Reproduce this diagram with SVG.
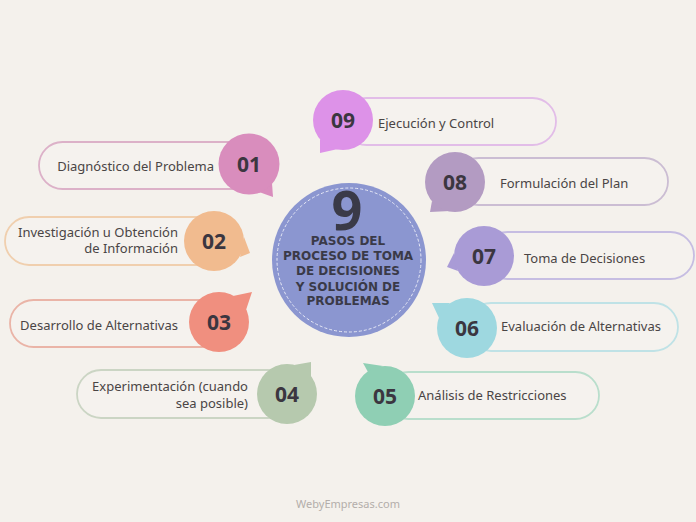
<svg xmlns="http://www.w3.org/2000/svg" width="696" height="522" viewBox="0 0 696 522">
<style>
.pill{fill:#f5f2ee;stroke-width:1.8}
.lbl{font-family:"Noto Sans","Open Sans",sans-serif;font-size:13px;fill:#4a4545}
.num{font-family:"Noto Sans","Open Sans",sans-serif;font-size:21px;font-weight:700;fill:#3b3640;text-anchor:middle}
.ctr{font-family:"DejaVu Sans","Noto Sans",sans-serif;font-weight:700;fill:#3a3a48;text-anchor:middle;font-size:12px}
</style>
<rect width="696" height="522" fill="#f4f1ec"/>
<g id="connectors"></g>
<g id="center">
<circle cx="349" cy="260" r="77" fill="#8b96d0"/>
<circle cx="349" cy="260" r="72" fill="none" stroke="#e6e8f6" stroke-width="1" stroke-dasharray="3 2"/>
<text x="347" y="230" text-anchor="middle" font-family="'Noto Sans','Open Sans',sans-serif" font-weight="700" font-size="54" fill="#3a3a48">9</text>
<text class="ctr" x="348" y="245">PASOS DEL</text>
<text class="ctr" x="348" y="260">PROCESO DE TOMA</text>
<text class="ctr" x="348" y="275">DE DECISIONES</text>
<text class="ctr" x="348" y="291">Y SOLUCIÓN DE</text>
<text class="ctr" x="348" y="305">PROBLEMAS</text>
</g>
<g id="n01">
<rect class="pill" x="39" y="142" width="220" height="47" rx="23.5" stroke="#dcb1c8"/>
<polygon points="272,183 259,192 273,197" fill="#d98dbd"/>
<circle cx="249" cy="164" r="30.5" fill="#d98dbd"/>
<text class="num" x="249" y="172">01</text>
<text class="lbl" x="214" y="171" text-anchor="end">Diagnóstico del Problema</text>
</g>
<g id="n02">
<rect class="pill" x="5" y="217" width="215" height="48" rx="24" stroke="#f0cfae"/>
<polygon points="244,237 240,257 250,253" fill="#f1bb8f"/>
<circle cx="214" cy="241" r="30" fill="#f1bb8f"/>
<text class="num" x="214" y="249">02</text>
<text class="lbl" x="178" y="237" text-anchor="end">Investigación u Obtención</text>
<text class="lbl" x="178" y="253" text-anchor="end">de Información</text>
</g>
<g id="n03">
<rect class="pill" x="10" y="300" width="215" height="47" rx="23.5" stroke="#eab4a7"/>
<polygon points="233,296 246,310 252,292" fill="#f08f7f"/>
<circle cx="219" cy="322" r="30" fill="#f08f7f"/>
<text class="num" x="219" y="330">03</text>
<text class="lbl" x="178" y="330" text-anchor="end">Desarrollo de Alternativas</text>
</g>
<g id="n04">
<rect class="pill" x="77" y="370" width="215" height="48" rx="24" stroke="#cbd5c4"/>
<polygon points="294,365 311,377 311,362" fill="#b6c9ae"/>
<circle cx="287" cy="394" r="30" fill="#b6c9ae"/>
<text class="num" x="287" y="402">04</text>
<text class="lbl" x="248" y="391" text-anchor="end">Experimentación (cuando</text>
<text class="lbl" x="248" y="408" text-anchor="end">sea posible)</text>
</g>
<g id="n05">
<rect class="pill" x="385" y="372" width="214" height="47" rx="23.5" stroke="#b9decc"/>
<polygon points="368,372 383,366 363,363" fill="#8fcfb4"/>
<circle cx="385" cy="396" r="30" fill="#8fcfb4"/>
<text class="num" x="385" y="404">05</text>
<text class="lbl" x="418" y="400">Análisis de Restricciones</text>
</g>
<g id="n06">
<rect class="pill" x="467" y="303" width="211" height="48" rx="24" stroke="#bfe2e6"/>
<polygon points="439,318 450,303 432,303" fill="#9ed8e0"/>
<circle cx="467" cy="328" r="30" fill="#9ed8e0"/>
<text class="num" x="467" y="336">06</text>
<text class="lbl" x="501" y="331">Evaluación de Alternativas</text>
</g>
<g id="n07">
<rect class="pill" x="484" y="232" width="210" height="47" rx="23.5" stroke="#c6bde2"/>
<polygon points="458,271 454,253 447,267" fill="#a99bd6"/>
<circle cx="484" cy="256" r="30" fill="#a99bd6"/>
<text class="num" x="484" y="264">07</text>
<text class="lbl" x="524" y="263">Toma de Decisiones</text>
</g>
<g id="n08">
<rect class="pill" x="455" y="158" width="213" height="47" rx="23.5" stroke="#cbbdd3"/>
<polygon points="450,211 432,201 430,212" fill="#b39bc2"/>
<circle cx="455" cy="182" r="30" fill="#b39bc2"/>
<text class="num" x="455" y="190">08</text>
<text class="lbl" x="500" y="188">Formulación del Plan</text>
</g>
<g id="n09">
<rect class="pill" x="343" y="98" width="213" height="47" rx="23.5" stroke="#e2bde8"/>
<polygon points="338,149 320,139 320,153" fill="#dd92e8"/>
<circle cx="343" cy="120" r="30" fill="#dd92e8"/>
<text class="num" x="343" y="128">09</text>
<text class="lbl" x="378" y="128">Ejecución y Control</text>
</g>
<text x="348" y="508" text-anchor="middle" font-family="'Noto Sans','Open Sans',sans-serif" font-size="11" fill="#b3aeaa">WebyEmpresas.com</text>
</svg>
